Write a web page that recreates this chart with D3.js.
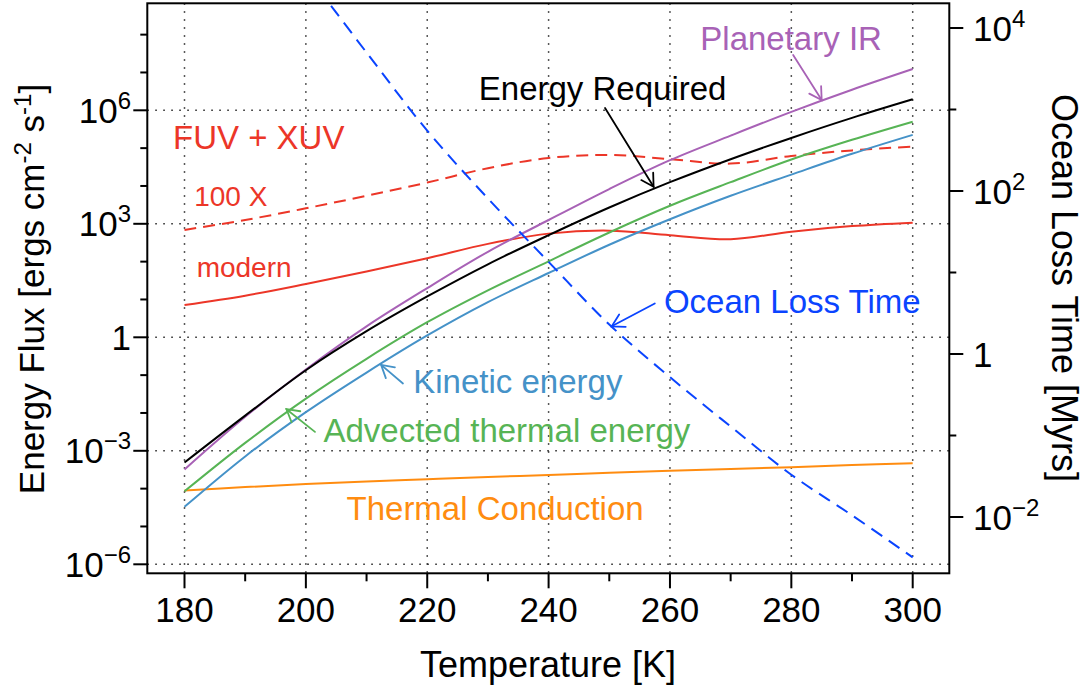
<!DOCTYPE html>
<html>
<head>
<meta charset="utf-8">
<script src="https://cdn.jsdelivr.net/npm/d3@7"></script>
<style>
  body { margin: 0; background: #fff; }
  svg { display: block; }
  text { font-family: "Liberation Sans", Arial, Helvetica, sans-serif; }
</style>
</head>
<body>
<script>
// Temperature grid [K]
const temperature = [180, 190, 200, 210, 220, 230, 240, 250, 260, 270, 280, 290, 300];

// Energy fluxes [ergs cm^-2 s^-1]
const energyRequired = [4.9e-4, 8.5e-3, 0.135, 1.45, 12, 85, 500, 2700, 1.26e4, 5.1e4, 1.86e5, 6.3e5, 1.95e6];
const planetaryIR    = [3.2e-4, 7.9e-3, 0.141, 1.95, 20, 182, 1260, 8300, 4.8e4, 2.14e5, 9.1e5, 3.5e6, 1.23e7];
const advectedThermal = [8.5e-5, 1.62e-3, 0.024, 0.27, 2.5, 17.4, 102, 590, 3000, 1.26e4, 5.0e4, 1.66e5, 5.0e5];
const kineticEnergy  = [3.3e-5, 7.1e-4, 0.0105, 0.117, 1.12, 8.5, 50, 280, 1320, 5500, 2.0e4, 7.1e4, 2.24e5];
const thermalConduction = [8.9e-5, 1.1e-4, 1.32e-4, 1.55e-4, 1.78e-4, 2.04e-4, 2.3e-4, 2.63e-4, 2.95e-4, 3.3e-4, 3.7e-4, 4.2e-4, 4.7e-4];
const fuvXuvModern   = [7.1, 12.6, 25.7, 55, 123, 295, 550, 660, 500, 390, 620, 870, 1070];
const fuvXuv100x     = [690, 1260, 2570, 5500, 1.23e4, 2.95e4, 5.5e4, 6.6e4, 5.1e4, 3.9e4, 6.2e4, 8.7e4, 1.1e5];

// Ocean loss time [Myr] (right axis)
const oceanTemperature = [200, 210, 220, 230, 240, 250, 260, 270, 280, 290, 300];
const oceanLossTime = [4.8e4, 5000, 550, 81, 13.5, 2.3, 0.52, 0.129, 0.033, 0.0105, 3.2e-3];

// Axis ticks
const xTicks = [180, 200, 220, 240, 260, 280, 300];
const xMinorTicks = [190, 210, 230, 250, 270, 290];
const yExponents = [-6, -3, 0, 3, 6];
const yMinorExponents = [-5, -4, -2, -1, 1, 2, 4, 5, 7, 8];
const y2Exponents = [-2, 0, 2, 4];
const y2MinorExponents = [-1, 1, 3];

const colors = {
  red: "#ec3628", purple: "#a862b6", green: "#57b455", blue: "#4592c8",
  orange: "#ff8c10", ocean: "#0a44ff", black: "#000"
};

const W = 1090, H = 690;
const box = { left: 147.3, right: 949.3, top: 3.3, bottom: 573.3 };

const svg = d3.select("body").append("svg").attr("width", W).attr("height", H);
svg.append("rect").attr("width", W).attr("height", H).attr("fill", "#fff");

const x = d3.scaleLinear().domain([180, 300]).range([184.5, 912.7]);
const y = d3.scaleLog().domain([1e-6, 1e6]).range([564.3, 110.3]);
const y2 = d3.scaleLog().domain([1e-2, 1e4]).range([517, 28]);

// dotted grid
const grid = svg.append("g").attr("stroke", "#222").attr("stroke-width", 1.5)
  .attr("stroke-dasharray", "1.5,6.5");
grid.selectAll(".gx").data(xTicks).join("line")
  .attr("x1", d => x(d)).attr("x2", d => x(d))
  .attr("y1", box.top).attr("y2", box.bottom);
grid.selectAll(".gy").data(yExponents).join("line")
  .attr("x1", box.left).attr("x2", box.right)
  .attr("y1", d => y(Math.pow(10, d))).attr("y2", d => y(Math.pow(10, d)));

// clip for the data
svg.append("clipPath").attr("id", "plotclip").append("rect")
  .attr("x", box.left).attr("y", box.top)
  .attr("width", box.right - box.left).attr("height", box.bottom - box.top);

const plot = svg.append("g").attr("clip-path", "url(#plotclip)");

function drawSeries(xs, ys, yScale, color, dash) {
  const pts = xs.map((t, i) => [t, ys[i]]);
  const line = d3.line().x(d => x(d[0])).y(d => yScale(d[1])).curve(d3.curveCatmullRom.alpha(0.5));
  plot.append("path").datum(pts).attr("d", line)
    .attr("fill", "none").attr("stroke", color).attr("stroke-width", 2)
    .attr("stroke-dasharray", dash || null);
}

drawSeries(temperature, thermalConduction, y, colors.orange);
drawSeries(temperature, fuvXuvModern, y, colors.red);
drawSeries(temperature, fuvXuv100x, y, colors.red, "12,7");
drawSeries(temperature, kineticEnergy, y, colors.blue);
drawSeries(temperature, advectedThermal, y, colors.green);
drawSeries(temperature, planetaryIR, y, colors.purple);
drawSeries(temperature, energyRequired, y, colors.black);
drawSeries(oceanTemperature, oceanLossTime, y2, colors.ocean, "13,8");

// box
svg.append("rect").attr("x", box.left).attr("y", box.top)
  .attr("width", box.right - box.left).attr("height", box.bottom - box.top)
  .attr("fill", "none").attr("stroke", "#000").attr("stroke-width", 2);

// x axis
const ax = svg.append("g").attr("stroke", "#000").attr("stroke-width", 2);
ax.selectAll(".xt").data(xTicks).join("line")
  .attr("x1", d => x(d)).attr("x2", d => x(d)).attr("y1", box.bottom).attr("y2", box.bottom + 15);
ax.selectAll(".xm").data(xMinorTicks).join("line")
  .attr("x1", d => x(d)).attr("x2", d => x(d)).attr("y1", box.bottom).attr("y2", box.bottom + 8);
svg.selectAll(".xl").data(xTicks).join("text")
  .attr("x", d => x(d)).attr("y", 622).attr("text-anchor", "middle")
  .attr("font-size", 35).text(d => d);

// left axis
ax.selectAll(".yt").data(yExponents).join("line")
  .attr("x1", box.left - 14).attr("x2", box.left)
  .attr("y1", d => y(Math.pow(10, d))).attr("y2", d => y(Math.pow(10, d)));
ax.selectAll(".ym").data(yMinorExponents).join("line")
  .attr("x1", box.left - 7).attr("x2", box.left)
  .attr("y1", d => y(Math.pow(10, d))).attr("y2", d => y(Math.pow(10, d)));

function powLabel(sel, e) {
  if (e === 0) { sel.text("1"); return; }
  sel.append("tspan").text("10");
  sel.append("tspan").attr("dy", -14).attr("font-size", 24)
    .text(e < 0 ? "\u2212" + (-e) : String(e));
}
yExponents.forEach(e => {
  const t = svg.append("text").attr("x", 131).attr("y", y(Math.pow(10, e)) + 12.5)
    .attr("text-anchor", "end").attr("font-size", 35);
  powLabel(t, e);
});

// right axis
ax.selectAll(".y2t").data(y2Exponents).join("line")
  .attr("x1", box.right).attr("x2", box.right + 14)
  .attr("y1", d => y2(Math.pow(10, d))).attr("y2", d => y2(Math.pow(10, d)));
ax.selectAll(".y2m").data(y2MinorExponents).join("line")
  .attr("x1", box.right).attr("x2", box.right + 7)
  .attr("y1", d => y2(Math.pow(10, d))).attr("y2", d => y2(Math.pow(10, d)));
y2Exponents.forEach(e => {
  const t = svg.append("text").attr("x", 973).attr("y", y2(Math.pow(10, e)) + 12.5)
    .attr("text-anchor", "start").attr("font-size", 35);
  powLabel(t, e);
});

// axis titles
svg.append("text").attr("x", 548).attr("y", 677).attr("text-anchor", "middle")
  .attr("font-size", 36).text("Temperature [K]");

const lt = svg.append("text").attr("transform", "translate(44,289) rotate(-90)")
  .attr("text-anchor", "middle").attr("font-size", 35);
lt.append("tspan").text("Energy Flux [ergs cm");
lt.append("tspan").attr("dy", -13).attr("font-size", 24).text("-2");
lt.append("tspan").attr("dy", 13).text(" s");
lt.append("tspan").attr("dy", -13).attr("font-size", 24).text("-1");
lt.append("tspan").attr("dy", 13).text("]");

svg.append("text").attr("transform", "translate(1052,288) rotate(90)")
  .attr("text-anchor", "middle").attr("font-size", 36).text("Ocean Loss Time [Myrs]");

// curve labels, placed in data coordinates
const labels = [
  { text: "FUV + XUV", t: 178.1, v: Math.pow(10, 4.97), size: 33, color: colors.red },
  { text: "100 X", t: 181.6, v: Math.pow(10, 3.47), size: 28, color: colors.red },
  { text: "modern", t: 182.0, v: Math.pow(10, 1.60), size: 28, color: colors.red },
  { text: "Energy Required", t: 228.5, v: Math.pow(10, 6.27), size: 33, color: colors.black },
  { text: "Planetary IR", t: 265.0, v: Math.pow(10, 7.59), size: 33, color: colors.purple },
  { text: "Ocean Loss Time", t: 259.0, v: Math.pow(10, 0.63), size: 33, color: colors.ocean },
  { text: "Kinetic energy", t: 217.7, v: Math.pow(10, -1.48), size: 33, color: colors.blue },
  { text: "Advected thermal energy", t: 202.9, v: Math.pow(10, -2.76), size: 33, color: colors.green },
  { text: "Thermal Conduction", t: 206.7, v: Math.pow(10, -4.83), size: 33, color: colors.orange }
];
svg.selectAll(".lab").data(labels).join("text")
  .attr("x", d => x(d.t)).attr("y", d => y(d.v))
  .attr("font-size", d => d.size).attr("fill", d => d.color).text(d => d.text);

// pointer arrows: from label toward its curve
const arrows = [
  { t0: 249.3, v0: Math.pow(10, 6.06), t1: 257.3, v1: Math.pow(10, 3.98), scale: y, color: colors.black },
  { t0: 280.3, v0: Math.pow(10, 7.46), t1: 285.0, v1: Math.pow(10, 6.27), scale: y, color: colors.purple },
  { t0: 257.5, v0: Math.pow(10, 0.62), t1: 250.4, v1: Math.pow(10, 0.34), scale: y2, color: colors.ocean },
  { t0: 216.0, v0: Math.pow(10, -1.22), t1: 212.4, v1: Math.pow(10, -0.73), scale: y, color: colors.blue },
  { t0: 201.5, v0: Math.pow(10, -2.50), t1: 196.8, v1: Math.pow(10, -1.90), scale: y, color: colors.green }
];
arrows.forEach(a => {
  const x0 = x(a.t0), y0 = a.scale(a.v0), x1 = x(a.t1), y1 = a.scale(a.v1);
  const ang = Math.atan2(y1 - y0, x1 - x0);
  const L = 14, spread = Math.PI / 6;
  const g = svg.append("g").attr("stroke", a.color).attr("stroke-width", 1.8)
    .attr("fill", "none").attr("stroke-linecap", "round");
  g.append("line").attr("x1", x0).attr("y1", y0).attr("x2", x1).attr("y2", y1);
  g.append("path").attr("d",
    `M${x1 - L * Math.cos(ang - spread)},${y1 - L * Math.sin(ang - spread)}` +
    `L${x1},${y1}` +
    `L${x1 - L * Math.cos(ang + spread)},${y1 - L * Math.sin(ang + spread)}`);
});
</script>
</body>
</html>
